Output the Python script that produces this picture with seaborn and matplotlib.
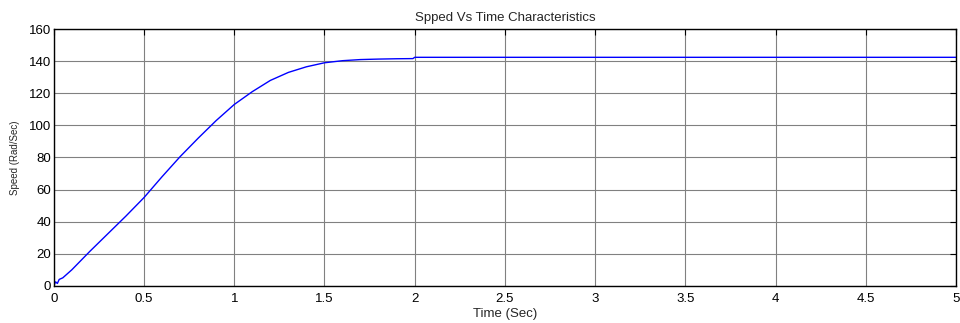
import pandas as pd
import seaborn as sns
import matplotlib.pyplot as plt

# speed response
time_s = [0, 0.01, 0.02, 0.03, 0.05, 0.1, 0.2, 0.3, 0.4, 0.5, 0.6, 0.7, 0.8, 0.9,
          1.0, 1.1, 1.2, 1.3, 1.4, 1.5, 1.6, 1.7, 1.8, 1.9, 1.99, 2.0, 3.0, 4.0, 5.0]
speed = [0, 2.5, 1.5, 4.0, 5.0, 10, 21.5, 32.5, 43.5, 55, 68, 80.5, 92, 103,
         113, 121, 128, 133, 136.5, 139, 140.3, 141, 141.3, 141.5, 141.6, 142.4, 142.4, 142.4, 142.4]

df = pd.DataFrame({'Time': time_s, 'Speed': speed})

sns.set_style('white')
plt.rcParams['font.family'] = ['Liberation Sans', 'DejaVu Sans']

fig = plt.figure(figsize=(9.6, 3.23), dpi=100)
ax = fig.add_axes([0.056, 0.115, 0.94, 0.795])

sns.lineplot(data=df, x='Time', y='Speed', color='#0000ff', linewidth=1.0, ax=ax)

ax.set_xlim(0, 5)
ax.set_ylim(0, 160)
ax.set_xticks([0, 0.5, 1, 1.5, 2, 2.5, 3, 3.5, 4, 4.5, 5])
ax.set_xticklabels(['0', '0.5', '1', '1.5', '2', '2.5', '3', '3.5', '4', '4.5', '5'])
ax.set_yticks(range(0, 161, 20))
ax.grid(True, color='0.5', linewidth=0.8)
ax.set_axisbelow(True)
for s in ax.spines.values():
    s.set_color('black')
    s.set_linewidth(1.0)
ax.tick_params(direction='in', length=4, width=0.8, top=True, right=True,
               labelsize=9.5, colors='black')
ax.tick_params(axis='x', pad=5)
ax.tick_params(axis='y', pad=2)

ax.set_title('Spped Vs Time Characteristics', fontsize=9.5, pad=6)
ax.set_xlabel('Time (Sec)', fontsize=9.5, labelpad=2)
ax.set_ylabel('Speed (Rad/Sec)', fontsize=7, labelpad=6)

fig.savefig('out.png', dpi=100)
plt.close()
